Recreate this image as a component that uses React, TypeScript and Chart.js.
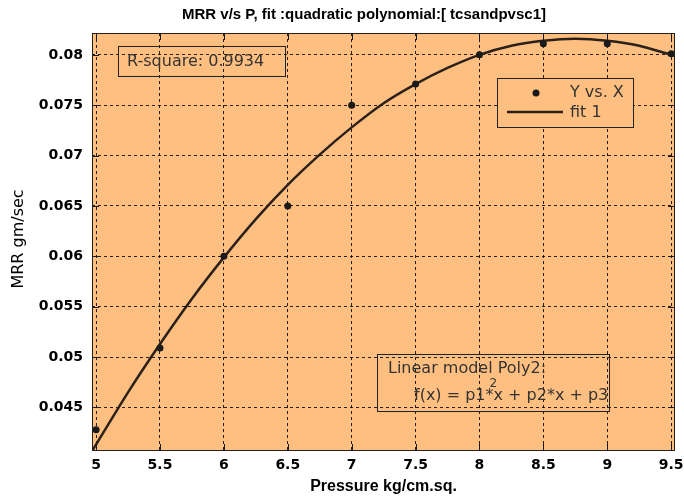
import React, { useEffect, useRef } from "react";
import { Chart, registerables } from "chart.js";

Chart.register(...registerables);

// Measured data (Y vs. X)
const pressure = [5, 5.5, 6, 6.5, 7, 7.5, 8, 8.5, 9, 9.5];
const mrr = [0.0428, 0.0509, 0.06, 0.065, 0.075, 0.0771, 0.08, 0.0811, 0.0811, 0.0801];

// Fitted curve (fit 1)
const fitX = [4.97, 5.25, 5.5, 5.75, 6, 6.25, 6.5, 6.75, 7, 7.25, 7.5, 7.75, 8, 8.25, 8.5, 8.75, 9, 9.25, 9.5, 9.53];
const fitY = [0.0407, 0.0465, 0.0513, 0.0558, 0.0599, 0.0637, 0.0671, 0.0701, 0.0728, 0.0752, 0.0771, 0.0787, 0.08, 0.0809, 0.0814, 0.0816, 0.0814, 0.0809, 0.08, 0.0799];

const xTicks = [5, 5.5, 6, 6.5, 7, 7.5, 8, 8.5, 9, 9.5];
const xTickLabels = ["5", "5.5", "6", "6.5", "7", "7.5", "8", "8.5", "9", "9.5"];
const yTicks = [0.045, 0.05, 0.055, 0.06, 0.065, 0.07, 0.075, 0.08];
const yTickLabels = ["0.045", "0.05", "0.055", "0.06", "0.065", "0.07", "0.075", "0.08"];

const titleText = "MRR v/s P, fit :quadratic polynomial:[ tcsandpvsc1]";
const xTitle = "Pressure kg/cm.sq.";
const yTitle = "MRR gm/sec";
const legendLabels = ["Y vs. X", "fit 1"];
const rSquareText = "R-square: 0.9934";
const modelLine1 = "Linear model Poly2:";
const modelLine2 = "f(x) = p1*x + p2*x + p3";

const ORANGE = "#FFBF80";
const INK = "#1a1a1a";
const TEXT = "#333333";
const LINE = "#2b211a";

const decorPlugin = {
  id: "matlabDecor",
  beforeDraw(chart: any) {
    const { ctx, chartArea: a } = chart;
    ctx.save();
    ctx.fillStyle = "#ffffff";
    ctx.fillRect(0, 0, chart.width, chart.height);
    ctx.fillStyle = ORANGE;
    ctx.fillRect(a.left, a.top, a.right - a.left, a.bottom - a.top);
    ctx.restore();
  },
  afterDraw(chart: any) {
    const { ctx, chartArea: a } = chart;
    const xs = chart.scales.x;
    const ys = chart.scales.y;
    ctx.save();
    // inward tick marks
    ctx.strokeStyle = INK;
    ctx.lineWidth = 1;
    ctx.setLineDash([]);
    const tl = 7;
    ctx.beginPath();
    xTicks.forEach((v) => {
      const px = Math.round(xs.getPixelForValue(v)) + 0.5;
      ctx.moveTo(px, a.bottom);
      ctx.lineTo(px, a.bottom - tl);
      ctx.moveTo(px, a.top);
      ctx.lineTo(px, a.top + tl);
    });
    yTicks.forEach((v) => {
      const py = Math.round(ys.getPixelForValue(v)) + 0.5;
      ctx.moveTo(a.left, py);
      ctx.lineTo(a.left + tl, py);
      ctx.moveTo(a.right, py);
      ctx.lineTo(a.right - tl, py);
    });
    ctx.stroke();
    // axes box
    ctx.strokeStyle = "#222";
    ctx.strokeRect(a.left + 0.5, a.top + 0.5, a.right - a.left - 1, a.bottom - a.top - 1);

    // title
    ctx.fillStyle = "#000";
    ctx.font = 'bold 15px "Liberation Sans"';
    ctx.textAlign = "center";
    ctx.textBaseline = "middle";
    ctx.fillText(titleText, 364, 15);

    // x title
    ctx.font = 'bold 16px "Liberation Sans"';
    ctx.fillText(xTitle, (a.left + a.right) / 2, 487);

    // y title
    ctx.save();
    ctx.translate(19, 239);
    ctx.rotate(-Math.PI / 2);
    ctx.font = '16px "DejaVu Sans"';
    ctx.fillText(yTitle, 0, 0);
    ctx.restore();

    ctx.textAlign = "left";
    ctx.strokeStyle = "#222";
    ctx.lineWidth = 1;

    // R-square box (transparent)
    ctx.strokeRect(118.5, 46.5, 167, 30);
    ctx.fillStyle = TEXT;
    ctx.font = '16px "DejaVu Sans"';
    ctx.fillText(rSquareText, 127, 62);

    // legend box (filled)
    ctx.fillStyle = ORANGE;
    ctx.fillRect(497, 78, 136, 49);
    ctx.strokeRect(497.5, 78.5, 136, 49);
    ctx.fillStyle = INK;
    ctx.beginPath();
    ctx.arc(536, 93, 3.5, 0, Math.PI * 2);
    ctx.fill();
    ctx.strokeStyle = LINE;
    ctx.lineWidth = 2.5;
    ctx.beginPath();
    ctx.moveTo(507, 112);
    ctx.lineTo(563, 112);
    ctx.stroke();
    ctx.fillStyle = TEXT;
    ctx.fillText(legendLabels[0], 570, 93);
    ctx.fillText(legendLabels[1], 570, 113);

    // model box (transparent)
    ctx.strokeStyle = "#222";
    ctx.lineWidth = 1;
    ctx.strokeRect(377.5, 354.5, 232, 57);
    ctx.fillStyle = TEXT;
    ctx.font = '16px "DejaVu Sans"';
    ctx.fillText(modelLine1, 388, 369);
    ctx.fillText(modelLine2, 414, 396);
    const pre = ctx.measureText("f(x) = p1*").width;
    ctx.font = '12px "DejaVu Sans"';
    ctx.fillText("2", 414 + pre - 4, 384);
    ctx.restore();
  },
};

export default function App() {
  const ref = useRef<HTMLCanvasElement | null>(null);
  useEffect(() => {
    document.body.style.margin = "0";
    const canvas = ref.current;
    if (!canvas) return;
    const chart = new Chart(canvas, {
      type: "scatter",
      data: {
        datasets: [
          {
            type: "scatter",
            label: legendLabels[0],
            data: pressure.map((x, i) => ({ x, y: mrr[i] })),
            pointRadius: 3.5,
            pointHoverRadius: 3.5,
            backgroundColor: INK,
            borderColor: INK,
            borderWidth: 0,
          },
          {
            type: "line",
            label: legendLabels[1],
            data: fitX.map((x, i) => ({ x, y: fitY[i] })),
            borderColor: LINE,
            borderWidth: 2.5,
            pointRadius: 0,
            tension: 0.3,
            fill: false,
          } as any,
        ],
      },
      options: {
        responsive: false,
        animation: false,
        events: [],
        layout: { padding: { top: 33, right: 9, left: 0, bottom: 0 }, autoPadding: false } as any,
        plugins: {
          legend: { display: false },
          title: { display: false },
          tooltip: { enabled: false },
        },
        scales: {
          x: {
            type: "linear",
            min: 4.968,
            max: 9.53,
            afterBuildTicks: (s: any) => {
              s.ticks = xTicks.map((v) => ({ value: v }));
            },
            afterFit: (s: any) => {
              s.height = 49;
              s.paddingLeft = 0;
              s.paddingRight = 0;
              s.paddingTop = 0;
              s.paddingBottom = 0;
            },
            ticks: {
              autoSkip: false,
              maxRotation: 0,
              padding: 6,
              color: "#000",
              font: { family: "DejaVu Sans", weight: "bold", size: 14 },
              callback: (_v: any, i: number) => xTickLabels[i],
            },
            grid: { color: "rgba(0,0,0,0.85)", lineWidth: 1, drawTicks: false },
            border: { display: false, dash: [3, 3] },
          },
          y: {
            type: "linear",
            min: 0.04068,
            max: 0.08217,
            afterBuildTicks: (s: any) => {
              s.ticks = yTicks.map((v) => ({ value: v }));
            },
            afterFit: (s: any) => {
              s.width = 92;
              s.paddingLeft = 0;
              s.paddingRight = 0;
              s.paddingTop = 0;
              s.paddingBottom = 0;
            },
            ticks: {
              autoSkip: false,
              padding: 9,
              color: "#000",
              font: { family: "DejaVu Sans", weight: "bold", size: 14 },
              callback: (_v: any, i: number) => yTickLabels[i],
            },
            grid: { color: "rgba(0,0,0,0.85)", lineWidth: 1, drawTicks: false },
            border: { display: false, dash: [3, 3] },
          },
        },
      },
      plugins: [decorPlugin],
    });
    return () => chart.destroy();
  }, []);
  return (
    <div style={{ width: 684, height: 500 }}>
      <canvas ref={ref} width={684} height={500} style={{ display: "block" }} />
    </div>
  );
}
